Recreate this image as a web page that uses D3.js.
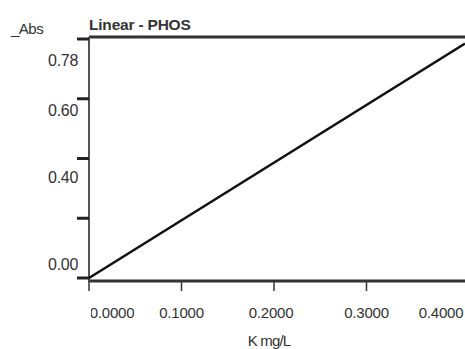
<!DOCTYPE html>
<html>
<head>
<meta charset="utf-8">
<script src="https://cdn.jsdelivr.net/npm/d3@7"></script>
<style>
  body { margin: 0; background: #fff; }
  text { font-family: "Liberation Sans", Arial, sans-serif; fill: #333; }
</style>
</head>
<body>
<script>
// calibration line (concentration, absorbance)
var concentration = [0, 0.4065];
var absorbance = [0, 0.785];

var xTicks = [0, 0.1, 0.2, 0.3, 0.4];
var xTickLabels = ["0.0000", "0.1000", "0.2000", "0.3000", "0.4000"];
var yTicks = [0, 0.2, 0.4, 0.6, 0.8];
var yTickLabels = ["0.00", "", "0.40", "0.60", "0.78"];

var W = 465, H = 349;
var svg = d3.select("body").append("svg")
    .attr("width", W)
    .attr("height", H);

x = d3.scaleLinear().domain([0, 0.4]).range([89, 459]);
y = d3.scaleLinear().domain([0, 0.8]).range([278, 39]);

var plotTop = 37, plotBottom = 281, plotLeft = 89;

svg.append("defs").append("clipPath").attr("id", "xclip")
    .append("rect").attr("x", 91).attr("y", 0).attr("width", W).attr("height", H);

// frame lines
svg.append("line")
    .attr("x1", plotLeft).attr("x2", W)
    .attr("y1", plotTop).attr("y2", plotTop)
    .attr("stroke", "#333").attr("stroke-width", 3);
svg.append("line")
    .attr("x1", plotLeft).attr("x2", W)
    .attr("y1", plotBottom).attr("y2", plotBottom)
    .attr("stroke", "#333").attr("stroke-width", 3);
svg.append("line")
    .attr("x1", plotLeft).attr("x2", plotLeft)
    .attr("y1", plotTop).attr("y2", plotBottom + 1)
    .attr("stroke", "#555").attr("stroke-width", 2);

// y ticks
var yOffsets = [-14, 0, 19, 12, 21];
svg.selectAll(".ytick")
    .data(yTicks)
    .enter().append("line")
    .attr("class", "ytick")
    .attr("x1", 77).attr("x2", plotLeft)
    .attr("y1", function (d) { return y(d); })
    .attr("y2", function (d) { return y(d); })
    .attr("stroke", "#222").attr("stroke-width", 3);
svg.selectAll(".ylab")
    .data(yTicks)
    .enter().append("text")
    .attr("class", "ylab")
    .attr("x", 78)
    .attr("y", function (d, i) { return y(d) + yOffsets[i]; })
    .attr("dy", "0.35em")
    .attr("text-anchor", "end")
    .style("font-size", "16px")
    .style("letter-spacing", "-0.3px")
    .text(function (d, i) { return yTickLabels[i]; });

// x ticks
svg.selectAll(".xtick")
    .data(xTicks.slice(0, 4))
    .enter().append("line")
    .attr("class", "xtick")
    .attr("x1", function (d) { return x(d); })
    .attr("x2", function (d) { return x(d); })
    .attr("y1", plotBottom).attr("y2", plotBottom + 10)
    .attr("stroke", "#333").attr("stroke-width", 1.5);
var xLabShift = [23, 0, -3, 0, -18];
svg.append("g").attr("clip-path", "url(#xclip)")
    .selectAll(".xlab")
    .data(xTicks)
    .enter().append("text")
    .attr("class", "xlab")
    .attr("x", function (d, i) { return x(d) + xLabShift[i]; })
    .attr("y", 318)
    .attr("text-anchor", "middle")
    .style("font-size", "15px")
    .style("letter-spacing", "-0.2px")
    .text(function (d, i) { return xTickLabels[i]; });

// calibration line
var pts = concentration.map(function (c, i) { return [c, absorbance[i]]; });
svg.append("path")
    .datum(pts)
    .attr("d", d3.line().x(function (d) { return x(d[0]); }).y(function (d) { return y(d[1]); }))
    .attr("fill", "none")
    .attr("stroke", "#111")
    .attr("stroke-width", 2.5);

// titles
svg.append("text")
    .attr("x", 89).attr("y", 30)
    .style("font-size", "15.5px").style("font-weight", "bold")
    .style("letter-spacing", "-0.2px")
    .text("Linear - PHOS");
svg.append("text")
    .attr("x", 11).attr("y", 34)
    .style("font-size", "15px")
    .style("letter-spacing", "-0.5px")
    .text("_Abs");
svg.append("text")
    .attr("x", 269).attr("y", 346)
    .attr("text-anchor", "middle")
    .style("font-size", "15px")
    .style("letter-spacing", "-0.8px")
    .text("K mg/L");
</script>
</body>
</html>
